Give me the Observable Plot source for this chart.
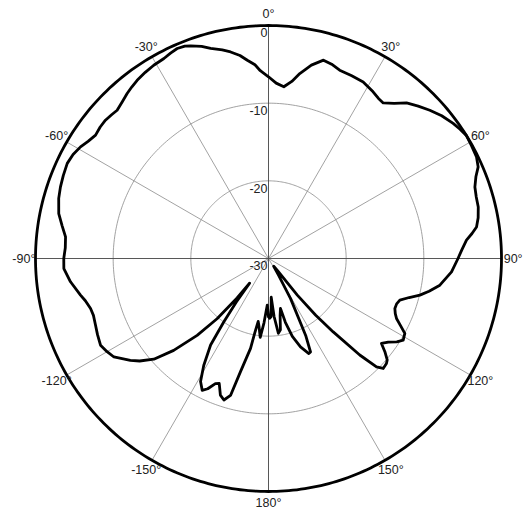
<!DOCTYPE html>
<html>
<head>
<meta charset="utf-8">
<script src="https://cdn.jsdelivr.net/npm/d3@7"></script>
<script src="https://cdn.jsdelivr.net/npm/@observablehq/plot@0.6"></script>
<style>
  html, body { margin: 0; padding: 0; background: #fff; }
  #chart { position: absolute; left: 0; top: 0; }
</style>
</head>
<body>
<div id="chart"></div>
<script>
// Radiation pattern: azimuth (degrees, clockwise from top) and relative gain (dB)
const angles = [
  -180, -178.5, -176, -174, -172, -170.7, -169.5, -168.7, -166.1, -164.5,
  -162.5, -160.6, -158.5, -157, -155, -153.3, -151.1, -148.8, -146.2, -144.8,
  -143.5, -142.5, -141.5, -139.5, -137.1, -134.1, -131.3, -128.5, -126.4, -122.5,
  -120, -117.3, -114, -111.1, -108, -105.7, -103, -101, -96.7, -92.8,
  -90, -87, -83.9, -81, -77.9, -74, -71, -68, -64.7, -62,
  -59.3, -57, -54.5, -52, -49.7, -47.5, -45.6, -43, -40.6, -38.5,
  -36.4, -33.5, -30.7, -27.6, -25.5, -23.5, -21.5, -20.1, -17.5, -15.4,
  -12.5, -10.4, -8, -6.1, -4, -2.5, 0, 2.5, 5.1, 7.5,
  9.6, 12.5, 15.5, 18, 20.7, 24.5, 28.2, 32.1, 34.5, 36.4,
  39, 41.6, 44.5, 47.4, 50.5, 53.8, 56, 58.1, 61, 64,
  66.4, 68.5, 70.9, 73.5, 76.2, 79, 81.4, 83, 84.7, 87.5,
  90, 94.2, 98.85, 101.5, 103.6, 105.5, 107.6, 109.5, 111.6, 113.5,
  115.1, 117, 118.8, 121.2, 123, 124.9, 126.95, 128.7, 130.5, 131.7,
  133.8, 135.1, 136.6, 138.6, 140.2, 141.8, 143.5, 146, 149, 151.2,
  154.2, 155.8, 157, 160.1, 163, 165.2, 166.5, 168.5, 170.5, 172.5,
  174.5, 176, 177.5, 179, 180
];
const gains = [
  -22.5, -24, -21.7, -19.8, -21.2, -21.8, -20.2, -18.2, -15.0, -11.7,
  -10.9, -11.35, -12.7, -12.5, -11.5, -11.0, -11.9, -13.9, -16.6, -20.0,
  -23.0, -26.0, -23.5, -19.8, -16.5, -13.0, -10.35, -8.8, -7.9, -6.4,
  -6.0, -5.66, -5.9, -6.13, -6.3, -6.2, -5.8, -5.34, -4.33, -3.62,
  -3.64, -3.8, -3.72, -3.1, -2.38, -1.9, -1.67, -1.5, -1.34, -1.5,
  -1.85, -2.3, -2.65, -2.5, -2.47, -2.6, -2.72, -2.4, -2.03, -1.75,
  -1.5, -1.25, -1.06, -0.94, -0.7, -0.52, -0.6, -0.84, -1.35, -1.95,
  -2.5, -2.96, -3.6, -4.33, -5.0, -5.8, -6.6, -7.4, -7.8, -7.0,
  -5.85, -4.5, -3.5, -3.7, -4.08, -4.15, -4.2, -4.66, -5.0, -5.11,
  -4.3, -3.22, -2.5, -1.79, -1.1, -0.54, -0.25, 0.0, -0.1, -0.2,
  -0.54, -1.3, -1.88, -2.1, -2.19, -2.5, -2.91, -3.6, -4.4, -5.1,
  -5.6, -6.37, -7.67, -8.9, -9.95, -11.2, -12.26, -12.5, -12.5, -12.2,
  -11.8, -10.9, -9.97, -9.72, -10.3, -11.2, -11.8, -10.8, -9.9, -9.66,
  -9.54, -10.3, -12.9, -17.4, -20.5, -24.0, -28.0, -28.8, -27.5, -24.1,
  -19.0, -16.8, -16.7, -17.9, -19.5, -21.5, -23.4, -22.5, -20.7, -20.3,
  -22.5, -25, -22.5, -22.3, -22.5
];

// Axes
const dBMin = -30, dBMax = 0;
const ringValues = [-20, -10];
const radialTicks = [0, -10, -20, -30];
const spokeAngles = [-150, -120, -90, -60, -30, 0, 30, 60, 90, 120, 150, 180];
const angleLabels = ["-150°", "-120°", "-90°", "-60°", "-30°", "0°", "30°", "60°", "90°", "120°", "150°", "180°"];
const mainAxes = [0, 90, 180, -90];

// polar mapping onto the sphere (pole = centre): longitude from angle, latitude from gain
const lon = a => 180 - a;
const lat = g => 90 - (g - dBMin);

const pattern = angles.map((a, i) => ({a, g: gains[i]}));
const circle = g => d3.geoCircle().center([0, 90]).radius(g - dBMin).precision(1)();
const outer = circle(dBMax);

const font = "'Liberation Sans', Arial, Helvetica, sans-serif";

const chart = Plot.plot({
  width: 523,
  height: 509,
  marginLeft: 35,
  marginRight: 22,
  marginTop: 25,
  marginBottom: 18,
  style: {background: "#fff", fontFamily: font},
  projection: {type: "azimuthal-equidistant", rotate: [0, -90], domain: outer, clip: false},
  marks: [
    Plot.geo(ringValues.map(circle), {stroke: "#8a8a8a", strokeWidth: 0.8}),
    Plot.link(spokeAngles.filter(a => !mainAxes.includes(a)), {
      x1: a => lon(a), y1: lat(dBMin), x2: a => lon(a), y2: lat(dBMax),
      stroke: "#8a8a8a", strokeWidth: 0.8
    }),
    Plot.link(mainAxes, {
      x1: a => lon(a), y1: lat(dBMin), x2: a => lon(a), y2: lat(dBMax),
      stroke: "#444", strokeWidth: 0.9
    }),
    Plot.geo(outer, {stroke: "#000", strokeWidth: 2.8}),
    Plot.line(pattern, {
      x: d => lon(d.a), y: d => lat(d.g),
      stroke: "#000", strokeWidth: 2.8, strokeLinejoin: "round"
    }),
    Plot.text(radialTicks, {
      x: lon(0), y: g => lat(g), text: g => String(g),
      textAnchor: "end", lineAnchor: "top", dx: -1, dy: 3,
      fontSize: 12.5, fill: "#222", fontFamily: font
    }),
    Plot.text(spokeAngles, {
      x: a => lon(a), y: lat(dBMax + 1.5), text: (a, i) => angleLabels[i],
      textAnchor: "middle", lineAnchor: "middle",
      fontSize: 12.5, fill: "#222", fontFamily: font
    })
  ]
});
document.getElementById("chart").appendChild(chart);
</script>
</body>
</html>
